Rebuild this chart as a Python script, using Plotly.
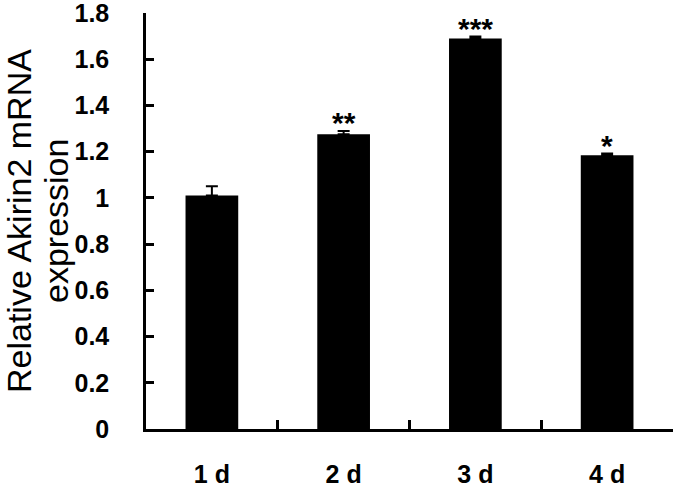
import plotly.graph_objects as go

days = ["1 d", "2 d", "3 d", "4 d"]
expression = [1.01, 1.275, 1.69, 1.185]
errors = [0.04, 0.015, 0.008, 0.007]
stars = ["", "**", "***", "*"]
title_lines = ["Relative Akirin2 mRNA", "expression"]

font = "Liberation Sans, Arial, sans-serif"

fig = go.Figure()
fig.add_trace(go.Bar(
    x=days, y=expression,
    marker=dict(color="black", line=dict(color="black", width=0)),
    error_y=dict(type="data", symmetric=False, array=errors,
                 arrayminus=[0] * len(errors), color="black",
                 thickness=2, width=6),
))

# significance marks above each bar
for d, v, e, s in zip(days, expression, errors, stars):
    if s:
        fig.add_annotation(x=d, y=v + e, text=f"<b>{s}</b>", showarrow=False,
                           yanchor="bottom", yshift=-10,
                           font=dict(family=font, size=30, color="black"))

# two-line y title, placed by hand for tight line spacing
for i, line in enumerate(title_lines):
    fig.add_annotation(xref="paper", yref="paper", x=0, y=0.5,
                       xanchor="center", yanchor="middle",
                       xshift=-127 + 37 * i, textangle=-90,
                       text=line, showarrow=False,
                       font=dict(family=font, size=34, color="black"))

fig.update_layout(
    width=675, height=488,
    margin=dict(l=146, r=2, t=13, b=59),
    paper_bgcolor="white", plot_bgcolor="white",
    bargap=0.6, showlegend=False,
)
fig.update_xaxes(
    automargin=False,
    showline=True, linecolor="black", linewidth=2.5,
    ticks="inside", tickson="boundaries", ticklen=9, tickwidth=2.5,
    tickcolor="black", showgrid=False, ticklabelstandoff=21,
    tickfont=dict(family=font, size=25, color="black", weight="bold"),
)
fig.update_yaxes(
    automargin=False,
    range=[0, 1.8001], dtick=0.2, tickformat="~g",
    showline=True, linecolor="black", linewidth=2.5,
    ticks="inside", ticklen=8, tickwidth=2.5, tickcolor="black",
    showgrid=False, zeroline=False, ticklabelstandoff=29,
    ticklabeloverflow="allow",
    tickfont=dict(family=font, size=25, color="black", weight="bold"),
)

# drop the default page margin so the figure sits at the window corner
fig.write_html("out.html", config={"displayModeBar": False},
               post_script="document.body.style.margin = '0';")
